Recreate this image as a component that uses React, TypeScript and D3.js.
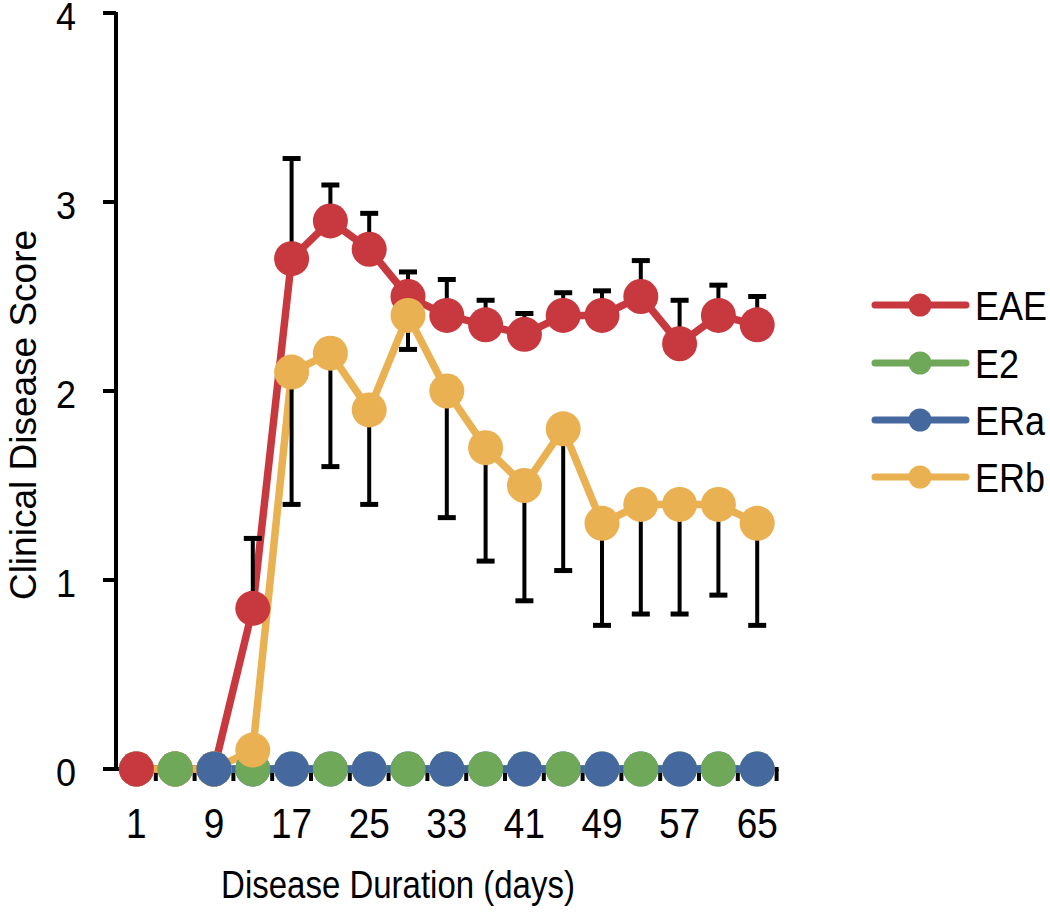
import React from "react";
import * as d3 from "d3";

const days = [1, 5, 9, 13, 17, 21, 25, 29, 33, 37, 41, 45, 49, 53, 57, 61, 65];
const tickDays = [1, 9, 17, 25, 33, 41, 49, 57, 65];
const yTicks = [0, 1, 2, 3, 4];

const eaeValues = [0, 0, 0, 0.85, 2.7, 2.9, 2.75, 2.5, 2.4, 2.35, 2.3, 2.4, 2.4, 2.5, 2.25, 2.4, 2.35];
const eaeErrUp = [0, 0, 0, 0.37, 0.53, 0.19, 0.19, 0.13, 0.19, 0.13, 0.11, 0.12, 0.13, 0.19, 0.23, 0.16, 0.15];
const e2Values = [0, 0, 0, 0, 0, 0, 0, 0, 0, 0, 0, 0, 0, 0, 0, 0, 0];
const eraValues = [0, 0, 0, 0, 0, 0, 0, 0, 0, 0, 0, 0, 0, 0, 0, 0, 0];
const erbValues = [0, 0, 0, 0.1, 2.1, 2.2, 1.9, 2.4, 2.0, 1.7, 1.5, 1.8, 1.3, 1.4, 1.4, 1.4, 1.3];
const erbErrDown = [0, 0, 0, 0, 0.7, 0.6, 0.5, 0.18, 0.67, 0.6, 0.61, 0.75, 0.54, 0.58, 0.58, 0.48, 0.54];

const seriesNames = ["EAE", "E2", "ERa", "ERb"];
const seriesColors = ["#C8393F", "#6FA858", "#45699E", "#EAB153"];
// which zero-valued series marker sits on top at each day (as drawn in the source figure)
const baselineOwner = ["EAE", "E2", "ERa", "E2", "ERa", "E2", "ERa", "E2", "ERa", "E2", "ERa", "E2", "ERa", "E2", "ERa", "E2", "ERa"];

const FONT = "'Liberation Sans', Arial, sans-serif";

export default function App() {
  const W = 1050, H = 916;
  const x0 = 117, band = 38.8;
  const xBand = d3.scaleBand<number>().domain(days).range([x0, x0 + band * days.length]).padding(0);
  const xc = (d: number) => (xBand(d) as number) + xBand.bandwidth() / 2;
  const y = d3.scaleLinear().domain([0, 4]).range([769, 13]);

  const allValues = [eaeValues, e2Values, eraValues, erbValues];
  const line = d3.line<number>().x((_, i) => xc(days[i])).y((v) => y(v));

  const r = 17.5;
  const markers: JSX.Element[] = [];
  days.forEach((d, i) => {
    const items = seriesNames.map((n, s) => ({ n, s, v: allValues[s][i] }));
    const zeros = items.filter((it) => it.v === 0 && it.n !== baselineOwner[i]);
    const owner = items.filter((it) => it.v === 0 && it.n === baselineOwner[i]);
    const nonZero = items.filter((it) => it.v !== 0);
    [...zeros, ...owner, ...nonZero].forEach((it) => {
      markers.push(
        <circle key={`m-${i}-${it.n}`} cx={xc(d)} cy={y(it.v)} r={r} fill={seriesColors[it.s]} />
      );
    });
  });

  const capW = 9;
  const xEnd = x0 + band * days.length + 2;

  const legendY = [305, 363, 420, 477];
  const TS = 1.15;

  return (
    <svg width={W} height={H} style={{ position: "absolute", left: 0, top: 0, background: "#fff" }}>
      {/* axes */}
      <line x1={116} x2={116} y1={12} y2={771} stroke="#000" strokeWidth={4} />
      {yTicks.map((t) => (
        <g key={`yt-${t}`}>
          <line x1={103} x2={116} y1={y(t)} y2={y(t)} stroke="#000" strokeWidth={4} />
          <text transform={`translate(76,${y(t) + 17}) scale(1,1.1)`} textAnchor="end" fontFamily={FONT} fontSize={36} fill="#000">
            {t}
          </text>
        </g>
      ))}
      <line x1={114} x2={xEnd} y1={769} y2={769} stroke="#000" strokeWidth={4} />
      {days.map((d, i) => (
        <line key={`xt-${i}`} x1={(xBand(d) as number) + band} x2={(xBand(d) as number) + band} y1={769} y2={781} stroke="#000" strokeWidth={4} />
      ))}
      {tickDays.map((d) => (
        <text key={`xl-${d}`} transform={`translate(${xc(d)},838) scale(1,${TS})`} textAnchor="middle" fontFamily={FONT} fontSize={37} fill="#000">
          {d}
        </text>
      ))}
      <text transform={`translate(398,898) scale(1,1.2)`} textAnchor="middle" fontFamily={FONT} fontSize={33} fill="#000">
        Disease Duration (days)
      </text>
      <text transform={`translate(36,415) rotate(-90)`} textAnchor="middle" fontFamily={FONT} fontSize={37} fill="#000">
        Clinical Disease Score
      </text>

      {/* lines: E2, then ERa, then EAE, then ERb */}
      {[1, 2, 0, 3].map((s) => (
        <path key={`l-${s}`} d={line(allValues[s]) || ""} fill="none" stroke={seriesColors[s]} strokeWidth={7.5} strokeLinejoin="round" />
      ))}

      {/* error bars */}
      {days.map((d, i) =>
        eaeErrUp[i] > 0 ? (
          <g key={`eu-${i}`}>
            <line x1={xc(d)} x2={xc(d)} y1={y(eaeValues[i])} y2={y(eaeValues[i] + eaeErrUp[i])} stroke="#000" strokeWidth={4} />
            <line x1={xc(d) - capW} x2={xc(d) + capW} y1={y(eaeValues[i] + eaeErrUp[i])} y2={y(eaeValues[i] + eaeErrUp[i])} stroke="#000" strokeWidth={5} />
          </g>
        ) : null
      )}
      {days.map((d, i) =>
        erbErrDown[i] > 0 ? (
          <g key={`ed-${i}`}>
            <line x1={xc(d)} x2={xc(d)} y1={y(erbValues[i])} y2={y(erbValues[i] - erbErrDown[i])} stroke="#000" strokeWidth={4} />
            <line x1={xc(d) - capW} x2={xc(d) + capW} y1={y(erbValues[i] - erbErrDown[i])} y2={y(erbValues[i] - erbErrDown[i])} stroke="#000" strokeWidth={5} />
          </g>
        ) : null
      )}

      {markers}

      {/* legend */}
      {seriesNames.map((n, s) => (
        <g key={`lg-${n}`}>
          <line x1={875} x2={966} y1={legendY[s]} y2={legendY[s]} stroke={seriesColors[s]} strokeWidth={7} strokeLinecap="round" />
          <circle cx={920} cy={legendY[s]} r={11.5} fill={seriesColors[s]} />
          <text transform={`translate(975,${legendY[s] + 15}) scale(1,${TS})`} fontFamily={FONT} fontSize={36} fill="#000">
            {n}
          </text>
        </g>
      ))}
    </svg>
  );
}
